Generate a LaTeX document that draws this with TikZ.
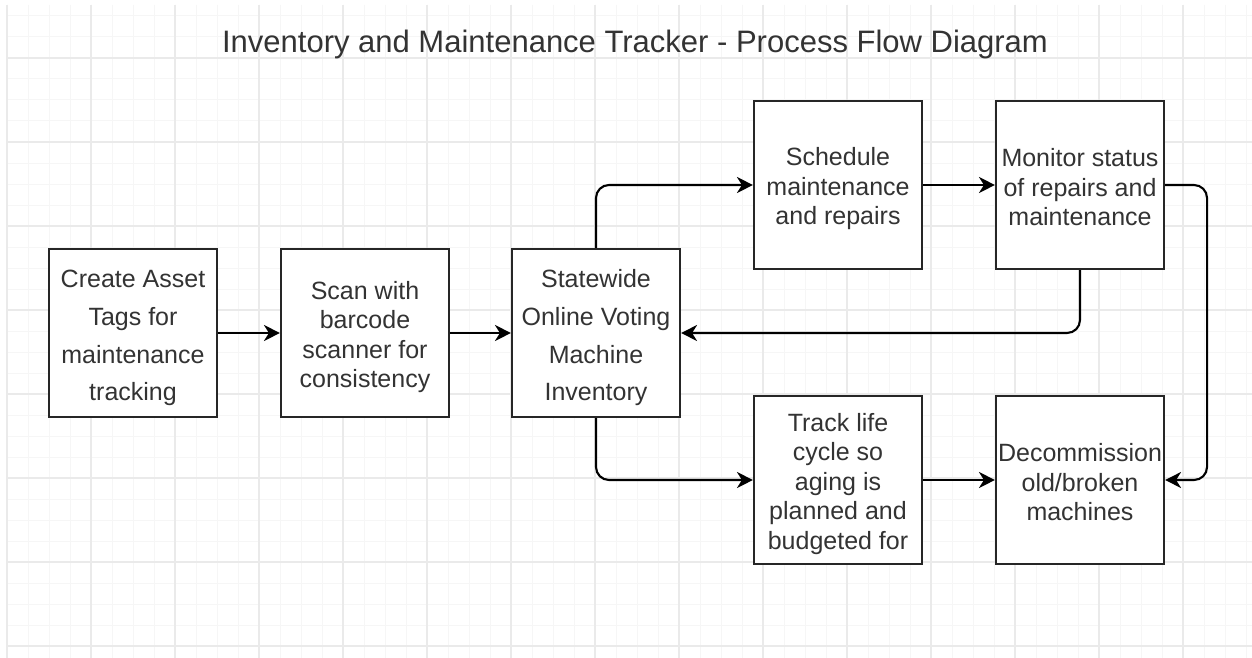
\documentclass[tikz,border=0pt]{standalone}
\usepackage{fontspec}
\setmainfont{Liberation Sans}
\usetikzlibrary{arrows.meta}
\definecolor{gridminor}{HTML}{F6F6F6}
\definecolor{gridmajor}{HTML}{EAEAEA}
\definecolor{txt}{HTML}{333333}
\newcommand{\sn}{\rule[-3.5pt]{0pt}{29.5pt}}
\newcommand{\sw}{\rule[-7.8pt]{0pt}{37.8pt}}
\newcommand{\lsl}{\lineskiplimit=-50pt\relax}
\newcommand{\fn}{\fontsize{25}{29.5}\selectfont\lsl}
\newcommand{\fw}{\fontsize{25}{37.8}\selectfont\lsl}
\tikzset{
  proc/.style={draw=black!85, line width=2.1pt, fill=white, minimum width=168pt, minimum height=168pt, inner sep=0pt, align=center, text=txt, font=\fn},
  wide/.style={font=\fw},
  conn/.style={line width=2.1pt, rounded corners=13pt, -{Stealth[length=16pt,width=16pt,inset=5pt]}},
}
\begin{document}
\begin{tikzpicture}[x=1pt,y=-1pt]
\useasboundingbox (0,0) rectangle (1252,658);
\fill[white] (0,0) rectangle (1252,658);
% grid
\foreach \i in {0,...,59} {
  \pgfmathsetmacro{\xx}{7+21*\i}
  \draw[gridminor, line width=1pt] (\xx,5) -- (\xx,658);
}
\foreach \j in {0,...,31} {
  \pgfmathsetmacro{\yy}{16+21*\j}
  \draw[gridminor, line width=1pt] (7,\yy) -- (1252,\yy);
}
\foreach \i in {0,...,14} {
  \pgfmathsetmacro{\xx}{7+84*\i}
  \draw[gridmajor, line width=1.2pt] (\xx,5) -- (\xx,658);
}
\foreach \j in {0,...,7} {
  \pgfmathsetmacro{\yy}{58+84*\j}
  \draw[gridmajor, line width=1.2pt] (7,\yy) -- (1252,\yy);
}
% title
\node[text=txt, font=\fontsize{31}{36}\selectfont, anchor=base] (title) at (635,53) {Inventory and Maintenance Tracker - Process Flow Diagram};
% boxes
\node[proc, wide] (create) at (133,333) {\sw Create Asset\\Tags for\\maintenance\\tracking\sw};
\node[proc] (scan) at (365,333) {\sn Scan with\\barcode\\scanner for\\consistency\sn};
\node[proc, wide] (inv) at (596,333) {\sw Statewide\\Online Voting\\Machine\\Inventory\sw};
\node[proc] (sched) at (838,185) {\sn Schedule\\maintenance\\and repairs\sn};
\node[proc] (mon) at (1080,185) {\sn Monitor status\\of repairs and\\maintenance\sn};
\node[proc] (track) at (838,480) {\sn Track life\\cycle so\\aging is\\planned and\\budgeted for\sn};
\node[proc] (decom) at (1080,480) {\sn Decommission\\old/broken\\machines\sn};
% connectors
\draw[conn] (create) -- (scan);
\draw[conn] (scan) -- (inv);
\draw[conn] (inv.north) |- (sched.west);
\draw[conn] (sched) -- (mon);
\draw[conn] (mon.east) -- ++(42,0) |- (decom.east);
\draw[conn] (mon.south) |- (inv.east);
\draw[conn] (inv.south) |- (track.west);
\draw[conn] (track) -- (decom);
\end{tikzpicture}
\end{document}
